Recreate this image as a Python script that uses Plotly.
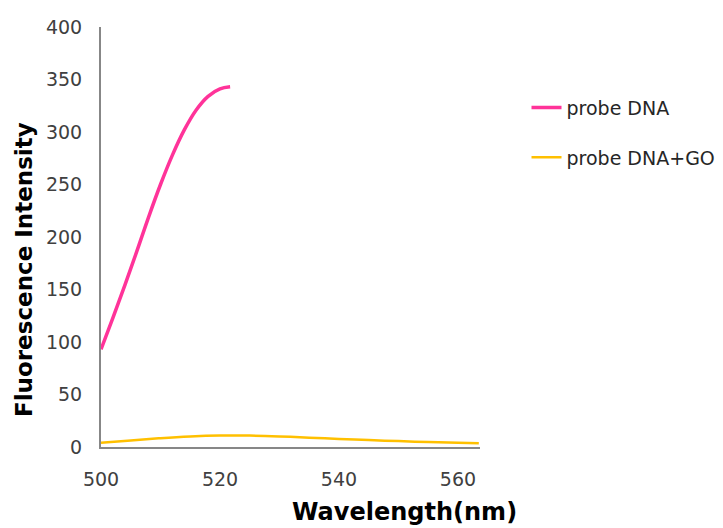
import plotly.graph_objects as go

# Data
probe_x = [500, 502, 504, 506, 508, 510, 512, 514, 516, 518, 520, 521.7]
probe_y = [93, 123, 154, 186, 219, 250, 278, 302, 321, 334, 341, 343]

go_x = [500, 505, 510, 515, 520, 525, 530, 535, 540, 545, 550, 555, 560, 563.5]
go_y = [4, 6.3, 8.4, 10, 10.9, 10.9, 10.1, 8.9, 7.7, 6.6, 5.6, 4.7, 4.0, 3.5]

x_ticks = [500, 520, 540, 560]
y_ticks = [0, 50, 100, 150, 200, 250, 300, 350, 400]

FONT = "DejaVu Sans, Liberation Sans, Arial, sans-serif"

# page body has an 8px margin; compensate so the plot lands where the reference has it
OFF = 8
fig = go.Figure()
fig.add_trace(go.Scatter(x=probe_x, y=probe_y, mode="lines", name="probe DNA",
                         legendgroup="a",
                         line=dict(color="#FF3399", width=3.5, shape="spline")))
fig.add_trace(go.Scatter(x=go_x, y=go_y, mode="lines", name="probe DNA+GO",
                         legendgroup="b",
                         line=dict(color="#FFC000", width=2.5, shape="spline")))

fig.update_layout(
    width=723 - OFF, height=528 - OFF,
    margin=dict(l=101 - OFF, r=243, t=27 - OFF, b=81, autoexpand=False),
    paper_bgcolor="white", plot_bgcolor="white",
    font=dict(family=FONT, size=19, color="#404040"),
    showlegend=True,
    legend=dict(x=1.1227, y=0.853, xanchor="left", yanchor="top",
                tracegroupgap=22, font=dict(size=19, color="#262626"),
                bgcolor="rgba(0,0,0,0)", borderwidth=0),
    xaxis=dict(range=[500, 563.7], tickvals=x_ticks, showgrid=False, zeroline=False,
               showline=True, linecolor="#878787", linewidth=2,
               ticks="outside", ticklen=14, tickcolor="rgba(0,0,0,0)",
               tickfont=dict(size=19, color="#404040")),
    yaxis=dict(range=[0, 400], tickvals=y_ticks, showgrid=False, zeroline=False,
               showline=True, linecolor="#878787", linewidth=2,
               ticks="outside", ticklen=13, tickcolor="rgba(0,0,0,0)",
               tickfont=dict(size=19, color="#404040")),
    annotations=[
        dict(text="<b>Wavelength(nm)</b>", xref="paper", yref="paper",
             x=(404 - 101) / 379, y=-(512 - 447) / 420, xanchor="center", yanchor="middle",
             showarrow=False, font=dict(size=24, color="#000000", family=FONT)),
        dict(text="<b>Fluorescence Intensity</b>", xref="paper", yref="paper",
             x=-(101 - 24) / 379, y=(447 - 270) / 420, xanchor="center", yanchor="middle",
             textangle=-90, showarrow=False,
             font=dict(size=23, color="#000000", family=FONT)),
    ],
)

fig.write_html("out.html")
